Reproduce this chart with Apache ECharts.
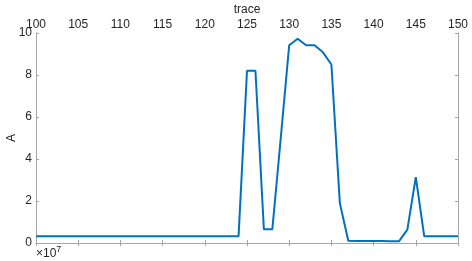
<!DOCTYPE html>
<html>
<head>
<meta charset="utf-8">
<script src="https://cdn.jsdelivr.net/npm/echarts@6/dist/echarts.min.js"></script>
<style>html,body{margin:0;padding:0;background:#fff}#c{width:472px;height:261px}</style>
</head>
<body>
<div id="c"></div>
<script>
// trace numbers
const traces = [100,101,102,103,104,105,106,107,108,109,110,111,112,113,114,115,116,117,118,119,120,121,122,123,124,125,126,127,128,129,130,131,132,133,134,135,136,137,138,139,140,141,142,143,144,145,146,147,148,149,150];
// A values, in units of 1e7
const aValues = [0.32,0.32,0.32,0.32,0.32,0.32,0.32,0.32,0.32,0.32,0.32,0.32,0.32,0.32,0.32,0.32,0.32,0.32,0.32,0.32,0.32,0.32,0.32,0.32,0.32,8.2,8.2,0.65,0.65,5.0,9.42,9.73,9.42,9.42,9.08,8.5,1.9,0.11,0.1,0.1,0.09,0.09,0.08,0.08,0.64,3.14,0.32,0.32,0.32,0.32,0.32];
const xTicks = [100,105,110,115,120,125,130,135,140,145,150];
const yTicks = [0,2,4,6,8,10];

const txt = '#262626', axc = '#a6a6a6';
const font = 'Liberation Sans, Arial, Helvetica, sans-serif';
const chart = echarts.init(document.getElementById('c'));
const commonX = {type:'value', min:100, max:150, interval:5,
  axisLine:{show:true, lineStyle:{color:axc, width:1}},
  axisTick:{show:true, inside:true, length:3, lineStyle:{color:axc}},
  splitLine:{show:false}};
const commonY = {type:'value', min:0, max:10, interval:2,
  axisLine:{show:true, lineStyle:{color:axc, width:1}},
  axisTick:{show:true, inside:true, length:3, lineStyle:{color:axc}},
  splitLine:{show:false}};
chart.setOption({
  animation:false,
  grid:{left:36, right:14, top:33, bottom:18, containLabel:false, outerBoundsMode:'none'},
  xAxis:[
    Object.assign({}, commonX, {position:'top', name:'trace', nameLocation:'middle', nameGap:17, nameMoveOverlap:false,
      nameTextStyle:{color:txt, fontSize:12, fontFamily:font},
      axisLabel:{show:true, color:txt, fontSize:12, fontFamily:font, margin:2}}),
    Object.assign({}, commonX, {position:'bottom', axisLabel:{show:false}})
  ],
  yAxis:[
    Object.assign({}, commonY, {position:'left', name:'A', nameLocation:'middle', nameGap:18, nameMoveOverlap:false,
      nameTextStyle:{color:txt, fontSize:12, fontFamily:font},
      axisLabel:{show:true, color:txt, fontSize:12, fontFamily:font, margin:4}}),
    Object.assign({}, commonY, {position:'right', axisLabel:{show:false}})
  ],
  graphic:[{type:'text', left:36, top:245,
    style:{text:'{a|×10}{b|7}', rich:{a:{fontSize:12, fontFamily:font, fill:txt, padding:[5,0,0,0]}, b:{fontSize:9, fontFamily:font, fill:txt, padding:[0,0,4,0]}}}}],
  series:[{type:'line', xAxisIndex:0, yAxisIndex:0, showSymbol:false,
    lineStyle:{color:'#0072BD', width:2},
    data: traces.map((t,i)=>[t, aValues[i]])}]
});
</script>
</body>
</html>
